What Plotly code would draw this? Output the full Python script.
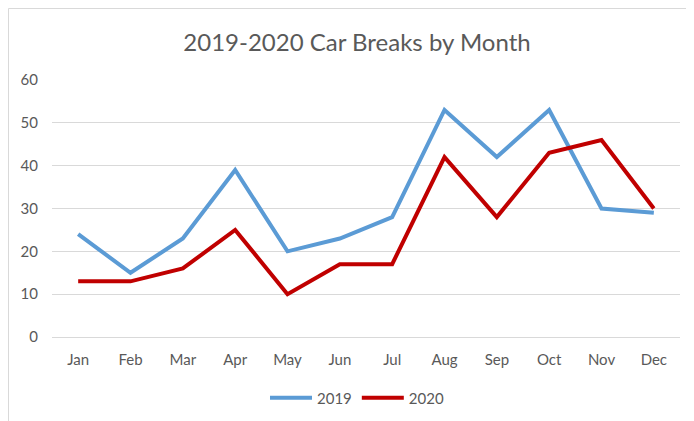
import plotly.graph_objects as go

months = ["Jan", "Feb", "Mar", "Apr", "May", "Jun", "Jul", "Aug", "Sep", "Oct", "Nov", "Dec"]
breaks_2019 = [24, 15, 23, 39, 20, 23, 28, 53, 42, 53, 30, 29]
breaks_2020 = [13, 13, 16, 25, 10, 17, 17, 42, 28, 43, 46, 30]
y_ticks = [0, 10, 20, 30, 40, 50, 60]

FONT = "Lato, Calibri, Carlito, sans-serif"
TXT = "#595959"

# page body has an 8px default margin; layout numbers compensate for it
L, R, T, B = 44, 22, 72, 92
PW, PH = 694 - L - R, 421 - T - B

fig = go.Figure()
fig.add_trace(go.Scatter(x=months, y=breaks_2019, name="2019", mode="lines",
                         line=dict(color="#5B9BD5", width=4)))
fig.add_trace(go.Scatter(x=months, y=breaks_2020, name="2020", mode="lines",
                         line=dict(color="#C00000", width=4)))

fig.update_layout(
    width=694, height=421,
    margin=dict(l=L, r=R, t=T, b=B),
    paper_bgcolor="white", plot_bgcolor="white",
    title=dict(text="2019-2020 Car Breaks by Month", x=(349 - L) / PW, xref="paper",
               xanchor="center", y=1 - 35 / 421, yanchor="middle",
               font=dict(family=FONT, size=24, color=TXT)),
    font=dict(family=FONT, size=15, color=TXT),
    xaxis=dict(range=[-0.5, 11.5], showgrid=False, showline=False, ticks="",
               ticklabelstandoff=12, tickfont=dict(size=15, color=TXT)),
    yaxis=dict(range=[0, 60], tickvals=y_ticks, showgrid=True, gridcolor="#D9D9D9",
               gridwidth=1, zeroline=True, zerolinecolor="#D9D9D9", zerolinewidth=1,
               showline=False, ticks="", ticklabelstandoff=13,
               tickfont=dict(size=15, color=TXT)),
    showlegend=True,
    legend=dict(orientation="h", x=(349 - L) / PW, xanchor="center",
                y=-61 / PH, yanchor="middle",
                font=dict(size=15, color=TXT), itemwidth=42),
    shapes=[dict(type="rect", xref="paper", yref="paper",
                 x0=(-L + 0.5) / PW, x1=1 + 40 / PW,
                 y0=-120 / PH, y1=1 + (T - 0.5) / PH,
                 line=dict(color="#D9D9D9", width=1), fillcolor="rgba(0,0,0,0)",
                 layer="below")],
)

fig.write_html("out.html")
